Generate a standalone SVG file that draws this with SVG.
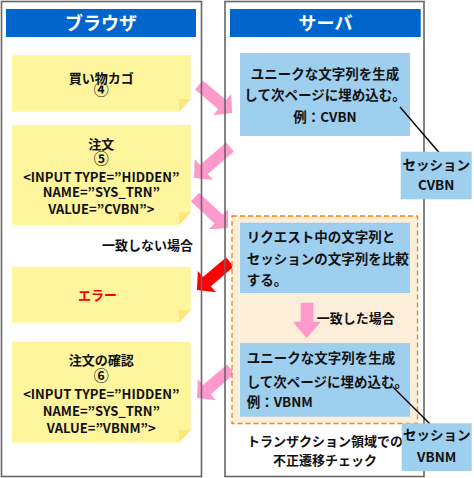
<svg xmlns="http://www.w3.org/2000/svg" width="474" height="478" viewBox="0 0 474 478">
<style>
text{font-family:"Noto Sans CJK JP","Noto Sans",sans-serif;font-weight:bold;fill:#111}
.hdr{fill:#0066CC}
.hdrt{fill:#fff;font-size:18px;text-anchor:middle}
.note{fill:#FFF59D}
.fold{fill:#FFE57A}
.nt{font-size:13px;text-anchor:middle}
.cd{font-size:15px;text-anchor:middle}
.blue{fill:#9FCFEE}
.bt{font-size:13.5px}
.pink{fill:#FF99CC}
.red{fill:#FF0000}
.panel{fill:none;stroke:#666;stroke-width:1.6}
.lead{stroke:#000;stroke-width:1.4;fill:none}
</style>
<rect width="474" height="478" fill="#fff"/>
<g id="connectors">
<polygon class="pink" transform="translate(199,85) rotate(40.2)" points="0,-6 30.3,-6 30.3,-14 43.3,0 30.3,14 30.3,6 0,6"/>
<polygon class="pink" transform="translate(230,147) rotate(139.3)" points="0,-6 34.5,-6 34.5,-14 47.5,0 34.5,14 34.5,6 0,6"/>
<polygon class="pink" transform="translate(195,197) rotate(43.2)" points="0,-6 32.3,-6 32.3,-14 45.3,0 32.3,14 32.3,6 0,6"/>
<polygon class="red" transform="translate(230,262) rotate(139.7)" points="0,-6 30.3,-6 30.3,-14 43.3,0 30.3,14 30.3,6 0,6"/>
<polygon class="pink" transform="translate(231,369) rotate(139.5)" points="0,-6 31.7,-6 31.7,-14 44.7,0 31.7,14 31.7,6 0,6"/>
</g>
<g id="browser">
<rect class="panel" x="1.5" y="1.5" width="200" height="475"/>
<rect class="hdr" x="6" y="9" width="190" height="28"/>
<text class="hdrt" x="101" y="30">ブラウザ</text>
</g>
<g id="server">
<rect class="panel" x="225" y="1.5" width="199" height="475"/>
<rect class="hdr" x="230" y="9" width="190.7" height="28"/>
<text class="hdrt" x="325.5" y="30">サーバ</text>
</g>
<g id="note-cart">
<polygon class="note" points="12,55 190.7,55 190.7,99 179,111.7 12,111.7"/>
<polygon class="fold" points="179,99 190.7,99 179,111.7"/>
<text class="nt" x="101.3" y="82.5">買い物カゴ</text>
<text class="cd" x="101.3" y="95.3">④</text>
</g>
<g id="note-order">
<polygon class="note" points="12,125 190.7,125 190.7,212.5 179,225 12,225"/>
<polygon class="fold" points="179,212.5 190.7,212.5 179,225"/>
<text class="nt" x="101.3" y="148.5">注文</text>
<text class="cd" x="101.3" y="164.3">⑤</text>
<text class="nt" x="101.3" y="181.5">&lt;INPUT TYPE=”HIDDEN”</text>
<text class="nt" x="101.3" y="197">NAME=”SYS_TRN”</text>
<text class="nt" x="101.3" y="213.5">VALUE=”CVBN”&gt;</text>
</g>
<g id="label-mismatch">
<text style="font-size:13px;text-anchor:end" x="193" y="249.5">一致しない場合</text>
</g>
<g id="note-error">
<polygon class="note" points="12,266.7 190.7,266.7 190.7,310 179,322.7 12,322.7"/>
<polygon class="fold" points="179,310 190.7,310 179,322.7"/>
<text class="nt" style="fill:#FF0000" x="97.5" y="299.5">エラー</text>
</g>
<g id="note-confirm">
<polygon class="note" points="12,341.7 190.7,341.7 190.7,430 179,442.7 12,442.7"/>
<polygon class="fold" points="179,430 190.7,430 179,442.7"/>
<text class="nt" x="101.3" y="364.5">注文の確認</text>
<text class="cd" x="101.3" y="381.3">⑥</text>
<text class="nt" x="101.3" y="398.5">&lt;INPUT TYPE=”HIDDEN”</text>
<text class="nt" x="101.3" y="416">NAME=”SYS_TRN”</text>
<text class="nt" x="101.3" y="432.5">VALUE=”VBNM”&gt;</text>
</g>
<g id="gen1">
<rect class="blue" x="240" y="53" width="170" height="83"/>
<text class="bt" x="325" y="79" text-anchor="middle">ユニークな文字列を生成</text>
<text class="bt" x="325" y="100" text-anchor="middle">して次ページに埋め込む。</text>
<text class="bt" x="325" y="122" text-anchor="middle">例：CVBN</text>
</g>
<g id="transaction">
<rect x="232" y="216" width="185.5" height="207.5" fill="#FDEEDA" stroke="#FF8000" stroke-width="1.3" stroke-dasharray="5,3"/>
<text style="font-size:13px;text-anchor:middle" x="325" y="445.5">トランザクション領域での</text>
<text style="font-size:13px;text-anchor:middle" x="325" y="464.5">不正遷移チェック</text>
</g>
<g id="compare">
<rect class="blue" x="240" y="222.7" width="170" height="70.3"/>
<text class="bt" x="246.7" y="242">リクエスト中の文字列と</text>
<text class="bt" x="246.7" y="264">セッションの文字列を比較</text>
<text class="bt" x="246.7" y="285">する。</text>
</g>
<g id="match-arrow">
<polygon class="pink" points="300.7,302.7 313.3,302.7 313.3,321.7 320.7,321.7 306.7,338.3 292.7,321.7 300.7,321.7"/>
<text style="font-size:13px" x="316.7" y="322.5">一致した場合</text>
</g>
<g id="gen2">
<rect class="blue" x="240" y="343" width="170" height="73.7"/>
<text class="bt" x="246.7" y="363">ユニークな文字列を生成</text>
<text class="bt" x="246.7" y="386.5">して次ページに埋め込む。</text>
<text class="bt" x="246.7" y="406.5">例：VBNM</text>
</g>
<g id="leaders">
<line class="lead" x1="400" y1="107" x2="439" y2="152.5"/>
<line class="lead" x1="392.7" y1="386.7" x2="430" y2="424"/>
</g>
<g id="session-cvbn">
<rect class="blue" x="400.7" y="151.7" width="71" height="47.6"/>
<text class="bt" x="436.2" y="170" text-anchor="middle">セッション</text>
<text class="bt" x="436.2" y="190" text-anchor="middle">CVBN</text>
</g>
<g id="session-vbnm">
<rect class="blue" x="401.7" y="423.3" width="70" height="47.7"/>
<text class="bt" x="436.7" y="440" text-anchor="middle">セッション</text>
<text class="bt" x="436.7" y="461.5" text-anchor="middle">VBNM</text>
</g>
</svg>
